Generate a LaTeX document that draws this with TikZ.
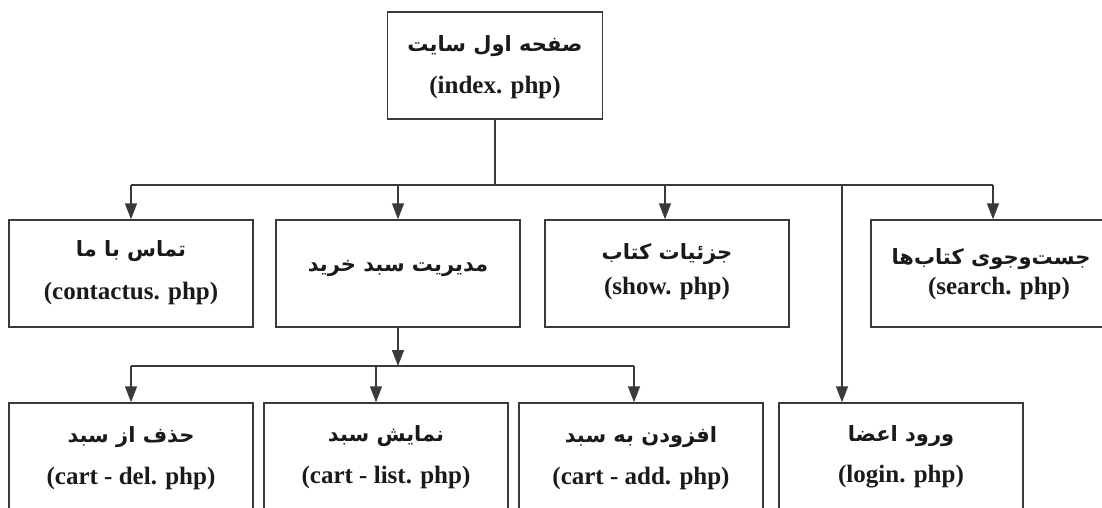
\documentclass[tikz,border=0pt]{standalone}
\usepackage{fontspec}
\setmainfont{Liberation Serif}
\newfontfamily\fafont[Script=Arabic]{DejaVu Sans}
\TeXXeTstate=1
\usetikzlibrary{arrows.meta}
\definecolor{linecol}{HTML}{3A3A3A}
\definecolor{txtcol}{HTML}{1A1A1A}
\tikzset{
  box/.style={draw=linecol, line width=1.4pt, minimum width=244pt, minimum height=107pt, inner sep=0pt},
  fa/.style={font=\fafont\bfseries\fontsize{21}{24}\selectfont, text=txtcol, inner sep=0pt},
  en/.style={font=\bfseries\fontsize{25}{29}\selectfont, text=txtcol, inner sep=0pt},
  conn/.style={draw=linecol, line width=1.4pt},
  arr/.style={conn, -{Triangle[length=16pt,width=12pt]}}
}
\newcommand{\rtl}[1]{\beginR #1\endR}
\begin{document}
\begin{tikzpicture}[x=1pt,y=-1pt]
\useasboundingbox (0,0) rectangle (1102,507);
\clip (0,0) rectangle (1102,507);
% boxes
\node[box, minimum width=215pt] (home) at (495,65.5) {};
\node[box] (contact) at (131,273.5) {};
\node[box] (cart) at (398,273.5) {};
\node[box] (show) at (667,273.5) {};
\node[box] (search) at (993,273.5) {};
\node[box] (del) at (131,456.5) {};
\node[box] (list) at (386,456.5) {};
\node[box] (add) at (641,456.5) {};
\node[box] (login) at (901,456.5) {};
% texts
\node[fa] (homefa) at (495,46) {\rtl{صفحه اول سایت}};
\node[en] (homeen) at (495,87) {(index. php)};
\node[fa] (contactfa) at (131,251) {\rtl{تماس با ما}};
\node[en] (contacten) at (131,293) {(contactus. php)};
\node[fa] (cartfa) at (398,268) {\rtl{مدیریت سبد خرید}};
\node[fa] (showfa) at (667,254) {\rtl{جزئیات کتاب}};
\node[en] (showen) at (667,288) {(show. php)};
\node[fa] (searchfa) at (991,259) {\rtl{جست‌وجوی کتاب‌ها}};
\node[en] (searchen) at (999,288) {(search. php)};
\node[fa] (delfa) at (131,437) {\rtl{حذف از سبد}};
\node[en] (delen) at (131,478) {(cart - del. php)};
\node[fa] (listfa) at (386,436) {\rtl{نمایش سبد}};
\node[en] (listen) at (386,477) {(cart - list. php)};
\node[fa] (addfa) at (641,437) {\rtl{افزودن به سبد}};
\node[en] (adden) at (641,478) {(cart - add. php)};
\node[fa] (loginfa) at (901,436) {\rtl{ورود اعضا}};
\node[en] (loginen) at (901,477) {(login. php)};
% connectors, level 1
\coordinate (j1) at (495,185);
\coordinate (lg) at (842,185);
\coordinate (sh) at (665,185);
\draw[conn] (home.south) -- (j1);
\draw[conn] (contact.north |- j1) -- (search.north |- j1);
\draw[arr] (contact.north |- j1) -- (contact.north);
\draw[arr] (cart.north |- j1) -- (cart.north);
\draw[arr] (sh) -- (sh |- show.north);
\draw[arr] (search.north |- j1) -- (search.north);
\draw[arr] (lg) -- (lg |- login.north);
% connectors, level 2
\coordinate (j2) at (398,366);
\coordinate (l2) at (376,366);
\coordinate (a2) at (634,366);
\draw[arr] (cart.south) -- (j2);
\draw[conn] (del.north |- j2) -- (a2);
\draw[arr] (del.north |- j2) -- (del.north);
\draw[arr] (l2) -- (l2 |- list.north);
\draw[arr] (a2) -- (a2 |- add.north);
\end{tikzpicture}
\end{document}
